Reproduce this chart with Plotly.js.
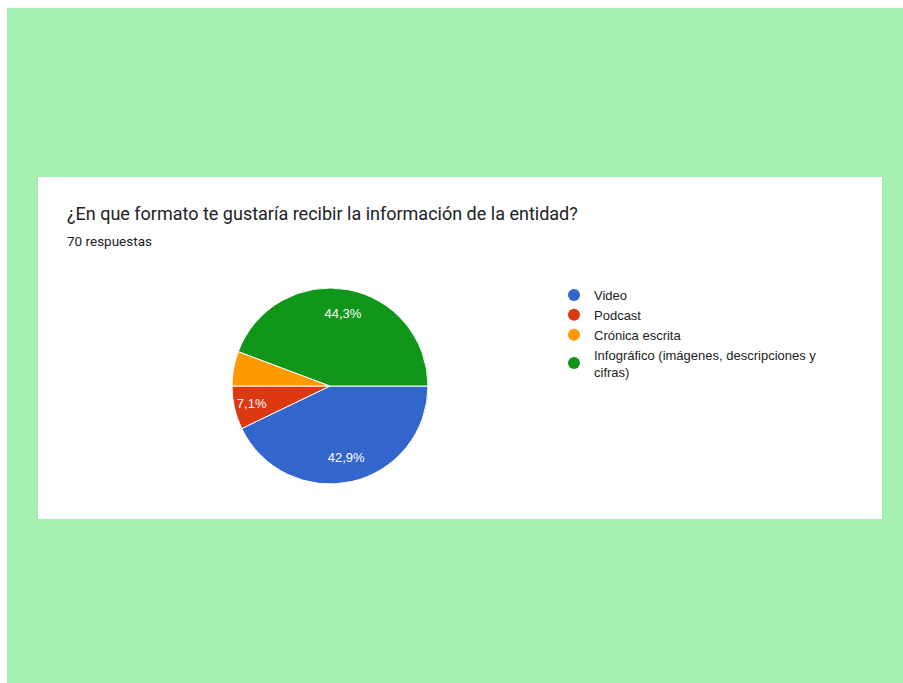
<!DOCTYPE html>
<html>
<head>
<meta charset="utf-8">
<script src="https://cdn.plot.ly/plotly-3.0.1.min.js"></script>
<style>
  html, body { margin: 0; padding: 0; background: #ffffff; width: 903px; height: 683px; overflow: hidden; }
  #bg { position: absolute; left: 7px; top: 8px; width: 896px; height: 675px; background: #a5f0b0; }
  #chart { position: absolute; left: 38px; top: 177px; width: 844px; height: 342px; background: #ffffff; }
</style>
</head>
<body>
<div id="bg"></div>
<div id="chart"></div>
<script>
const titleText = '¿En que formato te gustaría recibir la información de la entidad?';
const subtitleText = '70 respuestas';
const categories = ['Video', 'Podcast', 'Crónica escrita', 'Infográfico (imágenes, descripciones y cifras)'];
const legendLabels = ['Video', 'Podcast', 'Crónica escrita', 'Infográfico (imágenes, descripciones y<br>cifras)'];
const values = [30, 5, 4, 31];
const colors = ['#3366cc', '#dc3912', '#ff9900', '#109618'];
const showLabel = [true, true, false, true];

const total = values.reduce((a, b) => a + b, 0);
const sliceText = values.map((v, i) => showLabel[i] ? (v / total * 100).toFixed(1).replace('.', ',') + '%' : '');

const W = 844, H = 342;
const cx = 292, cy = 209, r = 98;
const pieDomain = { x: [(cx - r) / W, (cx + r) / W], y: [(H - cy - r) / H, (H - cy + r) / H] };

const traces = [{
  type: 'pie',
  labels: categories,
  values: values,
  textinfo: 'none',
  marker: { colors: colors, line: { color: '#ffffff', width: 1 } },
  sort: false,
  direction: 'clockwise',
  rotation: 90,
  showlegend: false,
  hoverinfo: 'label+percent',
  domain: pieDomain
}, {
  // transparent ring carrying the slice labels, so they sit out toward the rim
  type: 'pie',
  labels: categories,
  values: values,
  hole: 0.5,
  text: sliceText,
  textinfo: 'text',
  textposition: 'inside',
  insidetextorientation: 'horizontal',
  textfont: { color: '#ffffff', size: 13, family: 'Liberation Sans, Arial, sans-serif' },
  marker: { colors: colors.map(() => 'rgba(0,0,0,0)'), line: { width: 0 } },
  sort: false,
  direction: 'clockwise',
  rotation: 90,
  showlegend: false,
  hoverinfo: 'skip',
  domain: pieDomain
}];

legendLabels.forEach((name, i) => {
  traces.push({
    type: 'scatter', mode: 'markers', x: [null], y: [null],
    name: name,
    marker: { symbol: 'circle', size: 12, color: colors[i] },
    showlegend: true, hoverinfo: 'skip'
  });
});

const layout = {
  width: W, height: H,
  margin: { l: 0, r: 0, t: 0, b: 0 },
  paper_bgcolor: '#ffffff',
  plot_bgcolor: 'rgba(0,0,0,0)',
  font: { family: 'Roboto, Liberation Sans, Arial, sans-serif', color: '#202124' },
  xaxis: { visible: false, domain: [0.6, 0.61] },
  yaxis: { visible: false, domain: [0.6, 0.61] },
  showlegend: true,
  legend: {
    x: 516 / W, y: 1 - 103 / H, xanchor: 'left', yanchor: 'top',
    font: { size: 13, color: '#222222', family: 'Liberation Sans, Arial, sans-serif' },
    itemwidth: 30, tracegroupgap: 0, bgcolor: 'rgba(0,0,0,0)'
  },
  annotations: [
    { text: titleText, xref: 'paper', yref: 'paper', x: 27 / W, y: 1 - 36 / H,
      xanchor: 'left', yanchor: 'middle', showarrow: false,
      font: { size: 18, color: '#202124', family: 'Roboto, Liberation Sans, Arial, sans-serif' } },
    { text: subtitleText, xref: 'paper', yref: 'paper', x: 27 / W, y: 1 - 64 / H,
      xanchor: 'left', yanchor: 'middle', showarrow: false,
      font: { size: 13.5, color: '#202124', family: 'Roboto, Liberation Sans, Arial, sans-serif' } }
  ]
};

Plotly.newPlot('chart', traces, layout, { displayModeBar: false, staticPlot: true });
</script>
</body>
</html>
